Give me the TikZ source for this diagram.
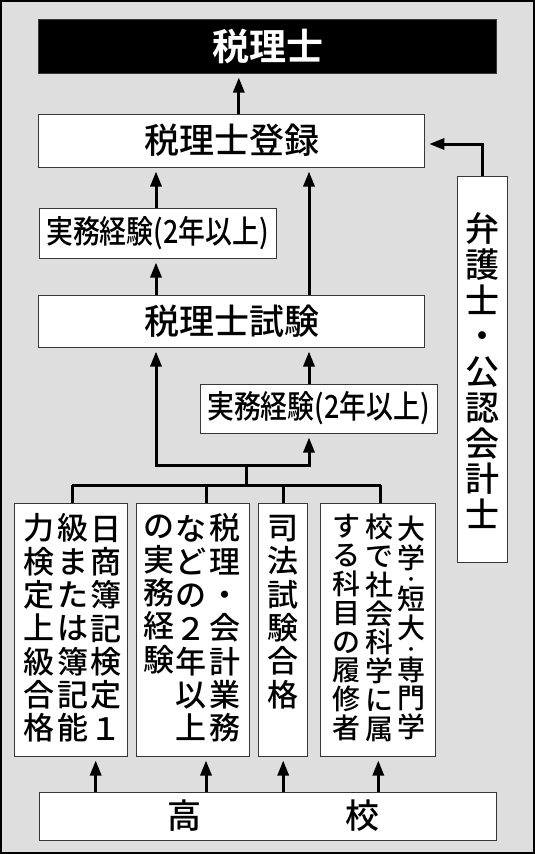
\documentclass[tikz,border=0pt]{standalone}
\usepackage{fontspec}
\IfFontExistsTF{Noto Sans CJK JP Medium}{%
  \newfontfamily\jp{Noto Sans CJK JP Medium}
  \newfontfamily\jpnarrow[FakeStretch=0.84]{Noto Sans CJK JP Medium}}{%
  \newfontfamily\jp{Noto Sans CJK JP}
  \newfontfamily\jpnarrow[FakeStretch=0.84]{Noto Sans CJK JP}}
\newfontfamily\jpbold{Noto Sans CJK JP Bold}
\usetikzlibrary{arrows.meta,calc}
\definecolor{panel}{RGB}{221,222,221}
\definecolor{edge}{RGB}{55,55,55}
\newcommand{\smalldot}{\raisebox{3.5pt}{\fontsize{16}{16}\selectfont ・}}

\begin{document}
\begin{tikzpicture}[x=1pt,y=-1pt,
  box/.style={draw=edge,line width=1pt,fill=white,inner sep=0pt},
  arr/.style={line width=3pt,-{Triangle[length=15pt,width=11pt]},shorten >=4pt},
  link/.style={line width=3pt},
  vtext/.style={align=center,inner sep=0pt,font=\fontsize{31}{33.3}\selectfont\jp}]
  \useasboundingbox (0,0) rectangle (535,854);
  \draw[fill=panel,line width=2pt] (1,1) rectangle (534,853);

  \node[box,fill=black,text=white,minimum width=458pt,minimum height=54pt,
    font=\fontsize{37}{40}\selectfont\jpbold] (zeirishi) at (267.6,46) {税理士};
  \node[box,minimum width=386pt,minimum height=53pt,
    font=\fontsize{35}{40}\selectfont\jp] (touroku) at (231.8,140.5) {税理士登録\hspace{20pt}};
  \node[box,minimum width=237pt,minimum height=50pt,
    font=\fontsize{32}{36}\selectfont\jpnarrow] (jitsumu1) at (157.5,233) {実務経験(2年以上)};
  \node[box,minimum width=386pt,minimum height=52pt,
    font=\fontsize{35}{40}\selectfont\jp] (shiken) at (231.8,321) {税理士試験\hspace{20pt}};
  \node[box,minimum width=237pt,minimum height=49pt,
    font=\fontsize{32}{36}\selectfont\jpnarrow] (jitsumu2) at (318.5,408.5) {実務経験(2年以上)};
  \node[box,minimum width=50pt,minimum height=386pt] (bengoshi) at (482.3,369) {};
  \node[vtext,font=\fontsize{34}{35.7}\selectfont\jp] (bengoshi-t) at (482.5,370.8)
    {弁\\護\\士\\・\\公\\認\\会\\計\\士};

  \node[box,minimum width=112.7pt,minimum height=253pt] (boxA) at (70.7,629.5) {};
  \node[box,minimum width=112.5pt,minimum height=253pt] (boxB) at (192.8,629.5) {};
  \node[box,minimum width=49pt,minimum height=253pt] (boxC) at (283.2,629.5) {};
  \node[box,minimum width=115pt,minimum height=253pt] (boxD) at (378.3,629.5) {};
  \node[box,minimum width=457pt,minimum height=48pt,
    font=\fontsize{34}{38}\selectfont\jp] (koukou) at (267.5,816) {\hspace{11pt}高\hspace{144pt}校};

  \node[vtext] (A1) at (106,628) {日\\商\\簿\\記\\検\\定\\１};
  \node[vtext] (A2) at (73,628) {級\\ま\\た\\は\\簿\\記\\能};
  \node[vtext] (A3) at (39,628) {力\\検\\定\\上\\級\\合\\格};
  \node[vtext] (B1) at (225,628) {税\\理\\・\\会\\計\\業\\務};
  \node[vtext] (B2) at (191,628) {な\\ど\\の\\２\\年\\以\\上};
  \node[vtext] (B3) at (159,594.6) {の\\実\\務\\経\\験};
  \node[vtext] (C1) at (283,612) {司\\法\\試\\験\\合\\格};
  \node[vtext,font=\fontsize{28}{28.8}\selectfont\jp] (D1) at (411,627.8)
    {大\\学\\[-8pt]\smalldot\\[-8pt]短\\大\\[-8pt]\smalldot\\[-8pt]専\\門\\学};
  \node[vtext,font=\fontsize{28}{28.8}\selectfont\jp] (D2) at (379,627.8) {校\\で\\社\\会\\科\\学\\に\\属};
  \node[vtext,font=\fontsize{28}{28.8}\selectfont\jp] (D3) at (346,627.8) {す\\る\\科\\目\\の\\履\\修\\者};

  \coordinate (colL) at (156,0);
  \coordinate (colR) at (309,0);
  \coordinate (bus) at (246,485);
  \coordinate (join) at (246,465);

  \draw[arr] ([xshift=7pt]touroku.north) -- ([xshift=7pt]touroku.north |- zeirishi.south);
  \draw[arr] (bengoshi.north) |- ([yshift=-3.5pt]touroku.east);
  \draw[arr] (colL |- jitsumu1.north) -- (colL |- touroku.south);
  \draw[arr] (colR |- shiken.north) -- (colR |- touroku.south);
  \draw[arr] (colL |- shiken.north) -- (colL |- jitsumu1.south);
  \draw[arr] (colR |- jitsumu2.north) -- (colR |- shiken.south);
  \draw[arr] (bus) -- (join) -| (colL |- shiken.south);
  \draw[arr] (join) -| (colR |- jitsumu2.south);

  \draw[link] ([xshift=1.3pt]boxA.north |- bus) -- ([xshift=2.2pt]boxD.north |- bus);
  \draw[link] ([xshift=1.3pt]boxA.north |- bus) -- ([xshift=1.3pt]boxA.north);
  \draw[link] ([xshift=13.2pt]boxB.north |- bus) -- ([xshift=13.2pt]boxB.north);
  \draw[link] (boxC.north |- bus) -- (boxC.north);
  \draw[link] ([xshift=2.2pt]boxD.north |- bus) -- ([xshift=2.2pt]boxD.north);

  \draw[arr] ([xshift=25pt]boxA.south |- koukou.north) -- ([xshift=25pt]boxA.south);
  \draw[arr] ([xshift=13.2pt]boxB.south |- koukou.north) -- ([xshift=13.2pt]boxB.south);
  \draw[arr] (boxC.south |- koukou.north) -- (boxC.south);
  \draw[arr] (boxD.south |- koukou.north) -- (boxD.south);
\end{tikzpicture}
\end{document}
